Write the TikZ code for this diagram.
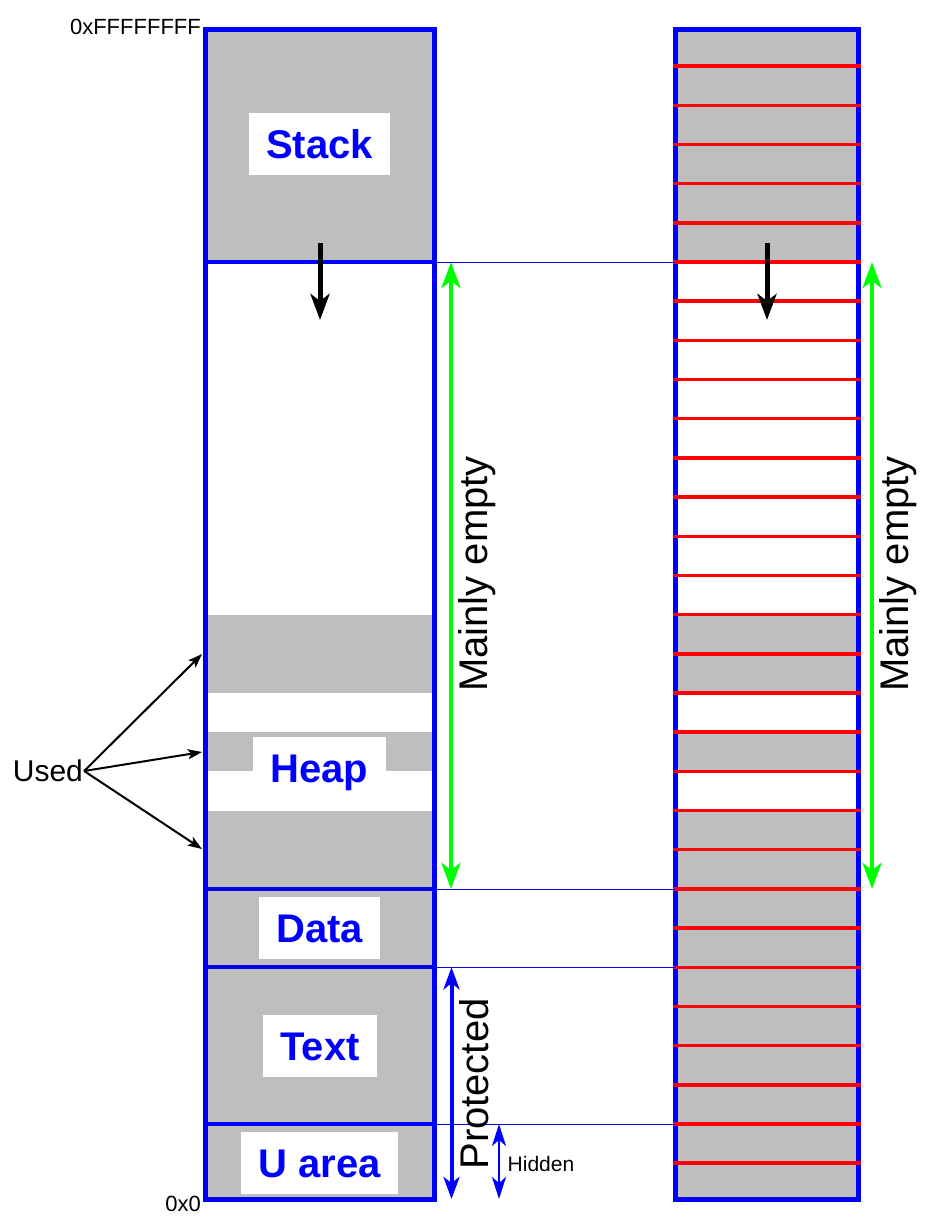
\documentclass[tikz,border=0pt]{standalone}
\usepackage{fontspec}
\setmainfont{Liberation Sans}
\usetikzlibrary{arrows.meta}

\definecolor{memblue}{RGB}{0,0,255}
\definecolor{memgrey}{RGB}{190,190,190}
\definecolor{pagered}{RGB}{255,0,0}
\definecolor{freegreen}{RGB}{0,255,0}

\tikzset{
  colframe/.style={draw=memblue, line width=5pt},
  divider/.style={draw=memblue, line width=4pt},
  usedfill/.style={fill=memgrey},
  seglabel/.style={fill=white, text=memblue, inner sep=0pt,
    minimum height=62pt, text height=29pt, text depth=0pt,
    font=\fontsize{40}{48}\selectfont\bfseries},
  pageline/.style={draw=pagered, line width=3.5pt},
  guide/.style={draw=memblue, line width=1pt},
  growth/.style={draw=black, line width=5pt,
    -{Stealth[length=26pt,width=19pt,inset=7pt]}},
  freespan/.style={draw=freegreen, line width=4.5pt,
    {Stealth[length=26pt,width=19pt,inset=7pt]}-{Stealth[length=26pt,width=19pt,inset=7pt]}},
  protspan/.style={draw=memblue, line width=4pt,
    {Stealth[length=22pt,width=16pt,inset=6pt]}-{Stealth[length=22pt,width=16pt,inset=6pt]}},
  hidespan/.style={draw=memblue, line width=2.5pt,
    {Stealth[length=22pt,width=14pt,inset=6pt]}-{Stealth[length=22pt,width=14pt,inset=6pt]}},
  pointer/.style={draw=black, line width=2pt,
    -{Stealth[length=14pt,width=10pt,inset=3pt]}},
  bigtext/.style={inner sep=0pt, font=\fontsize{40}{48}\selectfont},
  addr/.style={inner sep=0pt, font=\fontsize{22}{26}\selectfont}
}

\begin{document}
\begin{tikzpicture}[x=1pt,y=-1pt]
\useasboundingbox (0,0) rectangle (931,1225);

% ---------- left column: process address space ----------
\fill[usedfill] (205,30) rectangle (434,262);      % stack
\fill[usedfill] (205,614.6) rectangle (434,693.0); % heap blocks
\fill[usedfill] (205,732.2) rectangle (434,771.4);
\fill[usedfill] (205,810.6) rectangle (434,1199);  % heap, data, text, u area

\node[seglabel, minimum width=141pt] (stack) at (319.5,144.5) {Stack};
\node[seglabel, minimum width=133pt] (heap)  at (319.5,768) {Heap};
\node[seglabel, minimum width=121pt] (data)  at (319.5,928) {Data};
\node[seglabel, minimum width=114pt] (text)  at (320,1046) {Text};
\node[seglabel, minimum width=157pt] (uarea) at (319.5,1163) {U area};

\draw[colframe] (205,30) rectangle (434,1199);
\draw[divider] (205,262) -- (434,262);
\draw[divider] (205,889.0) -- (434,889.0);
\draw[divider] (205,967.3) -- (434,967.3);
\draw[divider] (205,1124.0) -- (434,1124.0);

% ---------- right column: pages ----------
\fill[usedfill] (675.5,30) rectangle (858,262);
\fill[usedfill] (675.5,614.6) rectangle (858,693.0);
\fill[usedfill] (675.5,732.2) rectangle (858,771.4);
\fill[usedfill] (675.5,810.6) rectangle (858,1199);
\draw[colframe] (675.5,30) rectangle (858,1199);
\foreach \k in {1,...,29}
  \draw[pageline] (673,{262+(\k-6)*39.18}) -- (860.5,{262+(\k-6)*39.18});

% ---------- boundary guides between the columns ----------
\coordinate (lStackEnd) at (434,262);    \coordinate (rStackEnd) at (675.5,262);
\coordinate (lHeapEnd)  at (434,889.0);  \coordinate (rHeapEnd)  at (675.5,889.0);
\coordinate (lDataEnd)  at (434,967.3);  \coordinate (rDataEnd)  at (675.5,967.3);
\coordinate (lTextEnd)  at (434,1124.0); \coordinate (rTextEnd)  at (675.5,1124.0);
\draw[guide] (lStackEnd) -- (rStackEnd);
\draw[guide] (lHeapEnd) -- (rHeapEnd);
\draw[guide] (lDataEnd) -- (rDataEnd);
\draw[guide] (lTextEnd) -- (rTextEnd);

% ---------- stack growth ----------
\coordinate (lGrowA) at (320,243); \coordinate (lGrowB) at (320,320);
\coordinate (rGrowA) at (767,243); \coordinate (rGrowB) at (767,320);
\draw[growth] (lGrowA) -- (lGrowB);
\draw[growth] (rGrowA) -- (rGrowB);

% ---------- spans ----------
\coordinate (lFreeTop) at (451,262); \coordinate (lFreeBot) at (451,889);
\coordinate (rFreeTop) at (872,262); \coordinate (rFreeBot) at (872,889);
\draw[freespan] (lFreeTop) -- (lFreeBot);
\draw[freespan] (rFreeTop) -- (rFreeBot);
\node[bigtext, rotate=90] (emptyL) at (477.5,574) {Mainly empty};
\node[bigtext, rotate=90] (emptyR) at (898,574) {Mainly empty};

\coordinate (protTop) at (451.5,967.3); \coordinate (protBot) at (451.5,1199);
\draw[protspan] (protTop) -- (protBot);
\node[bigtext, rotate=90] (prot) at (474,1084) {Protected};

\coordinate (hideTop) at (499,1124); \coordinate (hideBot) at (499,1199);
\draw[hidespan] (hideTop) -- (hideBot);
\node[inner sep=0pt, font=\fontsize{21}{25}\selectfont] (hidden) at (541,1164) {Hidden};

% ---------- used heap blocks ----------
\node[inner sep=1pt, anchor=west, text height=21.5pt, text depth=0pt,
      font=\fontsize{30}{36}\selectfont] (used) at (11.7,771) {Used};
\coordinate (useA) at (202,654);
\coordinate (useB) at (202,752);
\coordinate (useC) at (202,849);
\draw[pointer] (used.east) -- (useA);
\draw[pointer] (used.east) -- (useB);
\draw[pointer] (used.east) -- (useC);

% ---------- address labels ----------
\node[addr, anchor=base east] (hiaddr) at (201,35) {0xFFFFFFFF};
\node[addr, anchor=base east] (loaddr) at (201,1211.7) {0x0};
\end{tikzpicture}
\end{document}
